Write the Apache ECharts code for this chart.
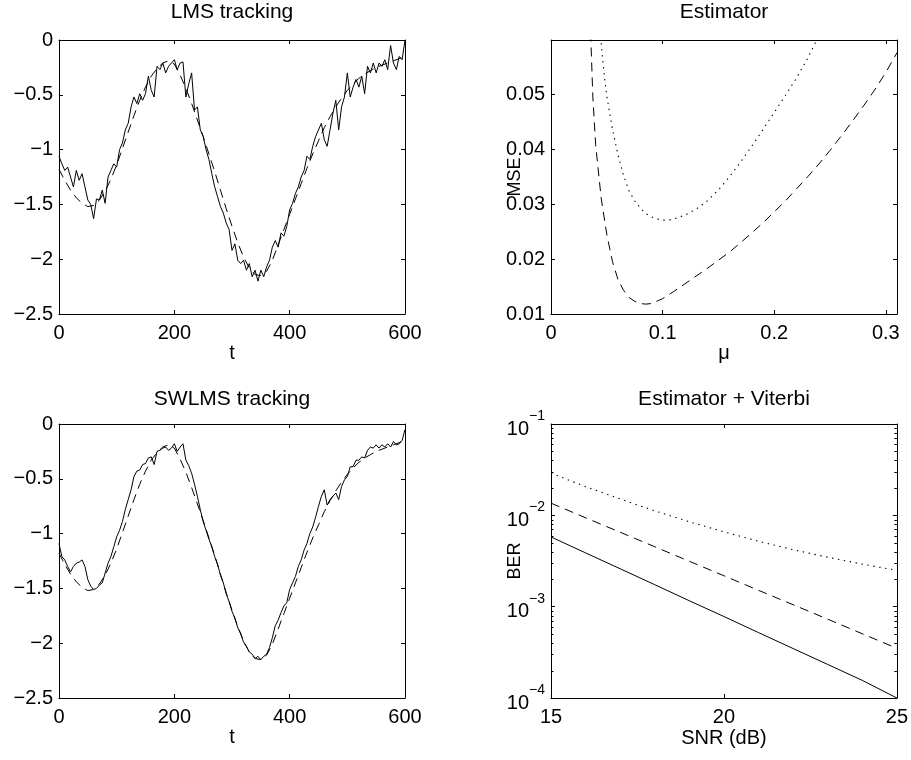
<!DOCTYPE html>
<html><head><meta charset="utf-8">
<script src="https://cdn.jsdelivr.net/npm/echarts@6/dist/echarts.min.js"></script>
<style>html,body{margin:0;padding:0;background:#fff}#c{width:911px;height:760px}</style>
</head><body><div id="c"></div>
<script>
// ---------------- data ----------------
const titles = ['LMS tracking', 'Estimator', 'SWLMS tracking', 'Estimator + Viterbi'];
const xNames = ['t', '\u03bc', 't', 'SNR (dB)'];
const yNames = ['', 'MSE', '', 'BER'];

// true channel (dashed), sampled every 10 time steps, t = 0..600
const trueStep = 10;
const trueChannel = [
  -1.18,-1.28,-1.37,-1.44,-1.49,-1.52,-1.51,-1.46,-1.38,-1.27,
  -1.14,-0.99,-0.84,-0.69,-0.55,-0.43,-0.33,-0.26,-0.21,-0.19,
  -0.22,-0.32,-0.44,-0.58,-0.73,-0.88,-1.04,-1.20,-1.37,-1.54,
  -1.70,-1.85,-1.98,-2.08,-2.14,-2.15,-2.11,-2.01,-1.87,-1.73,
  -1.59,-1.45,-1.31,-1.17,-1.04,-0.92,-0.80,-0.70,-0.61,-0.53,
  -0.46,-0.40,-0.35,-0.31,-0.28,-0.25,-0.23,-0.21,-0.19,-0.17,
  -0.15
];

// estimates (solid), sampled every 5 time steps, t = 0..600
const estStep = 5;
const lmsEstimate = [
  -1.06,-1.13,-1.19,-1.16,-1.25,-1.34,-1.19,-1.28,-1.22,-1.34,
  -1.46,-1.50,-1.63,-1.45,-1.46,-1.37,-1.49,-1.25,-1.19,-1.13,
  -1.16,-1.00,-0.94,-0.82,-0.76,-0.61,-0.52,-0.58,-0.49,-0.55,
  -0.49,-0.33,-0.46,-0.52,-0.24,-0.27,-0.21,-0.30,-0.24,-0.21,
  -0.18,-0.27,-0.21,-0.20,-0.52,-0.40,-0.30,-0.64,-0.61,-0.82,
  -0.88,-1.00,-1.09,-1.22,-1.34,-1.43,-1.52,-1.58,-1.67,-1.73,
  -1.92,-1.86,-2.01,-2.04,-2.01,-2.10,-2.04,-2.16,-2.10,-2.20,
  -2.10,-2.16,-2.07,-2.01,-1.89,-1.83,-1.89,-1.76,-1.79,-1.70,
  -1.55,-1.49,-1.40,-1.34,-1.25,-1.19,-1.06,-1.09,-0.97,-0.88,
  -0.82,-0.76,-0.91,-0.97,-0.82,-0.67,-0.55,-0.82,-0.61,-0.52,
  -0.30,-0.52,-0.43,-0.36,-0.43,-0.33,-0.49,-0.24,-0.30,-0.21,
  -0.30,-0.21,-0.24,-0.18,-0.27,-0.05,-0.21,-0.27,-0.15,-0.18,
   0.00
];
const swlmsEstimate = [
  -1.09,-1.21,-1.24,-1.30,-1.35,-1.30,-1.27,-1.26,-1.24,-1.30,
  -1.42,-1.48,-1.51,-1.50,-1.47,-1.45,-1.36,-1.27,-1.21,-1.12,
  -1.03,-0.97,-0.89,-0.78,-0.69,-0.60,-0.48,-0.43,-0.42,-0.37,
  -0.36,-0.31,-0.30,-0.37,-0.25,-0.24,-0.22,-0.21,-0.24,-0.22,
  -0.18,-0.25,-0.21,-0.18,-0.33,-0.38,-0.45,-0.55,-0.66,-0.78,
  -0.89,-0.97,-1.05,-1.12,-1.21,-1.28,-1.38,-1.45,-1.55,-1.62,
  -1.71,-1.77,-1.86,-1.91,-1.99,-2.03,-2.08,-2.10,-2.14,-2.12,
  -2.15,-2.12,-2.10,-2.04,-1.95,-1.84,-1.79,-1.72,-1.66,-1.63,
  -1.51,-1.45,-1.39,-1.30,-1.24,-1.15,-1.09,-1.00,-0.94,-0.85,
  -0.75,-0.66,-0.60,-0.74,-0.69,-0.66,-0.63,-0.69,-0.57,-0.51,
  -0.48,-0.39,-0.39,-0.33,-0.33,-0.30,-0.31,-0.24,-0.21,-0.22,
  -0.19,-0.22,-0.19,-0.21,-0.18,-0.21,-0.16,-0.19,-0.18,-0.15,
  -0.05
];

// Estimator: MSE vs mu
const muDashed  = [0.035,0.0375,0.04,0.045,0.05,0.055,0.06,0.065,0.07,0.075,0.08,0.085,0.09,0.10,0.11,0.12,0.13,0.14,0.15,0.16,0.17,0.18,0.19,0.20,0.21,0.22,0.23,0.24,0.25,0.26,0.27,0.28,0.29,0.30,0.31];
const mseDashed = [0.0640,0.0495,0.0408,0.0310,0.0245,0.0196,0.0163,0.0143,0.0130,0.0123,0.0119,0.0118,0.0119,0.0128,0.0141,0.0155,0.0169,0.0183,0.0198,0.0213,0.0230,0.0248,0.0266,0.0286,0.0306,0.0328,0.0350,0.0373,0.0398,0.0424,0.0451,0.0479,0.0508,0.0540,0.0576];
const muDotted  = [0.044,0.046,0.048,0.05,0.055,0.06,0.065,0.07,0.075,0.08,0.085,0.09,0.095,0.10,0.105,0.11,0.12,0.13,0.14,0.15,0.16,0.17,0.18,0.19,0.20,0.21,0.22,0.23,0.24,0.245];
const mseDotted = [0.0615,0.0570,0.0530,0.0497,0.0437,0.0390,0.0352,0.0324,0.0306,0.0293,0.0283,0.0277,0.0273,0.0271,0.0271,0.0273,0.0280,0.0291,0.0306,0.0326,0.0350,0.0377,0.0406,0.0436,0.0467,0.0498,0.0530,0.0566,0.0607,0.0630];

// Estimator + Viterbi: BER vs SNR
const snr       = [15,16,17,18,19,20,21,22,23,24,25];
const berSolid  = [5.8e-3,3.88e-3,2.6e-3,1.74e-3,1.16e-3,7.8e-4,5.2e-4,3.48e-4,2.33e-4,1.56e-4,1.0e-4];
const berDashed = [1.36e-2,9.4e-3,6.53e-3,4.53e-3,3.14e-3,2.18e-3,1.51e-3,1.05e-3,7.3e-4,5.05e-4,3.5e-4];
const berDotted = [2.9e-2,2.06e-2,1.51e-2,1.12e-2,8.5e-3,6.6e-3,5.2e-3,4.2e-3,3.48e-3,2.92e-3,2.5e-3];

// ---------------- chart ----------------
const FONT = "'Liberation Sans', Arial, Helvetica, sans-serif";
const TICK_FS = 20, TITLE_FS = 21, NAME_FS = 20, YNAME_FS = 18;
const BLACK = '#000';

const grids = [
  {left: 59,  top: 40,  width: 346, height: 274},
  {left: 551, top: 40,  width: 346, height: 274},
  {left: 59,  top: 424, width: 346, height: 274},
  {left: 551, top: 424, width: 346, height: 274}
];

const minus = s => String(s).replace('-', '\u2212');
const fmtLin = v => minus(parseFloat(v.toFixed(2)));
const fmtLog = v => {
  const e = Math.round(Math.log10(v));
  return '{b|10}{s|' + minus(e) + '}';
};

function axisPair(dir, gi, cfg) {
  const base = {
    type: cfg.type || 'value', gridIndex: gi,
    min: cfg.min, max: cfg.max,
    splitLine: {show: false},
    axisLine: {show: true, onZero: false, lineStyle: {color: BLACK, width: 1}},
    axisTick: {show: true, inside: true, length: 4, lineStyle: {color: BLACK, width: 1}}
  };
  if (cfg.interval !== undefined) base.interval = cfg.interval;
  if (cfg.type === 'log') base.logBase = 10;
  const primary = Object.assign({}, base, {
    position: dir === 'x' ? 'bottom' : 'left',
    name: cfg.name || '', nameLocation: 'middle', nameGap: cfg.nameGap,
    nameMoveOverlap: false,
    nameTextStyle: {color: BLACK, fontFamily: FONT, fontSize: dir === 'x' ? NAME_FS : YNAME_FS},
    axisLabel: {
      show: true, color: BLACK, fontFamily: FONT, fontSize: TICK_FS,
      margin: cfg.margin, formatter: cfg.formatter,
      showMaxLabel: cfg.showMaxLabel !== false,
      rich: cfg.rich
    }
  });
  const secondary = Object.assign({}, base, {
    position: dir === 'x' ? 'top' : 'right',
    axisLabel: {show: false}
  });
  return [primary, secondary];
}

const logRich = {
  b: {fontFamily: FONT, fontSize: TICK_FS, color: BLACK, lineHeight: 30, verticalAlign: 'bottom'},
  s: {fontFamily: FONT, fontSize: 14, color: BLACK, lineHeight: 14, verticalAlign: 'top'}
};

const xAxes = [].concat(
  axisPair('x', 0, {min: 0, max: 600, interval: 200, name: xNames[0], nameGap: 29, margin: 9, formatter: fmtLin}),
  axisPair('x', 1, {min: 0, max: 0.31, interval: 0.1, name: xNames[1], nameGap: 29, margin: 9, formatter: fmtLin, showMaxLabel: false}),
  axisPair('x', 2, {min: 0, max: 600, interval: 200, name: xNames[2], nameGap: 29, margin: 9, formatter: fmtLin}),
  axisPair('x', 3, {min: 15, max: 25, interval: 5, name: xNames[3], nameGap: 30, margin: 9, formatter: fmtLin})
);
const yAxes = [].concat(
  axisPair('y', 0, {min: -2.5, max: 0, interval: 0.5, margin: 6, formatter: fmtLin}),
  axisPair('y', 1, {min: 0.01, max: 0.0599, interval: 0.01, name: yNames[1], nameGap: 27, margin: 6, formatter: fmtLin, showMaxLabel: false}),
  axisPair('y', 2, {min: -2.5, max: 0, interval: 0.5, margin: 6, formatter: fmtLin}),
  axisPair('y', 3, {type: 'log', min: 1e-4, max: 1e-1, name: yNames[3], nameGap: 27, margin: 6, formatter: fmtLog, rich: logRich})
);

const solid  = {color: BLACK, width: 1, type: 'solid'};
const dashed = {color: BLACK, width: 1, type: [9, 6]};
const dotted = {color: BLACK, width: 1.1, type: [1.4, 4.6]};

function line(gi, data, style, z) {
  return {
    type: 'line', xAxisIndex: 2 * gi, yAxisIndex: 2 * gi, data: data,
    showSymbol: false, symbol: 'none', lineStyle: style, silent: true, z: z || 2,
    animation: false, clip: true
  };
}

// minor ticks of the log axis (2..9 x 10^k), drawn through the axis scale
const logMinor = [];
for (let k = -4; k < -1; k++) for (let m = 2; m <= 9; m++) logMinor.push([15, m * Math.pow(10, k)]);

const series = [
  line(0, lmsEstimate.map((v, i) => [i * estStep, v]), solid),
  line(0, trueChannel.map((v, i) => [i * trueStep, v]), dashed, 3),
  line(1, muDashed.map((m, i) => [m, mseDashed[i]]), dashed),
  line(1, muDotted.map((m, i) => [m, mseDotted[i]]), dotted),
  line(2, swlmsEstimate.map((v, i) => [i * estStep, v]), solid),
  line(2, trueChannel.map((v, i) => [i * trueStep, v]), dashed, 3),
  line(3, snr.map((s, i) => [s, berSolid[i]]), solid),
  line(3, snr.map((s, i) => [s, berDashed[i]]), dashed),
  line(3, snr.map((s, i) => [s, berDotted[i]]), dotted),
  {
    type: 'custom', xAxisIndex: 6, yAxisIndex: 6, data: logMinor, silent: true, z: 5,
    renderItem: function (params, api) {
      const y = Math.round(api.coord([api.value(0), api.value(1)])[1]) + 0.5;
      const cs = params.coordSys;
      return {
        type: 'group', children: [
          {type: 'line', shape: {x1: cs.x, y1: y, x2: cs.x + 2.5, y2: y}, style: {stroke: BLACK, lineWidth: 1}},
          {type: 'line', shape: {x1: cs.x + cs.width, y1: y, x2: cs.x + cs.width - 2.5, y2: y}, style: {stroke: BLACK, lineWidth: 1}}
        ]
      };
    }
  }
];

const titleCenters = [[232, 2], [724, 2], [232, 389], [724, 389]];
const graphics = titles.map((t, i) => ({
  type: 'text', x: titleCenters[i][0], y: titleCenters[i][1], silent: true,
  style: {
    text: t, fill: BLACK, fontFamily: FONT, fontSize: TITLE_FS,
    textAlign: 'center', textVerticalAlign: 'top', align: 'center', verticalAlign: 'top'
  }
}));

const chart = echarts.init(document.getElementById('c'), null, {renderer: 'canvas'});
chart.setOption({
  animation: false,
  backgroundColor: '#fff',
  grid: grids,
  xAxis: xAxes,
  yAxis: yAxes,
  series: series,
  graphic: graphics
});
</script></body></html>
